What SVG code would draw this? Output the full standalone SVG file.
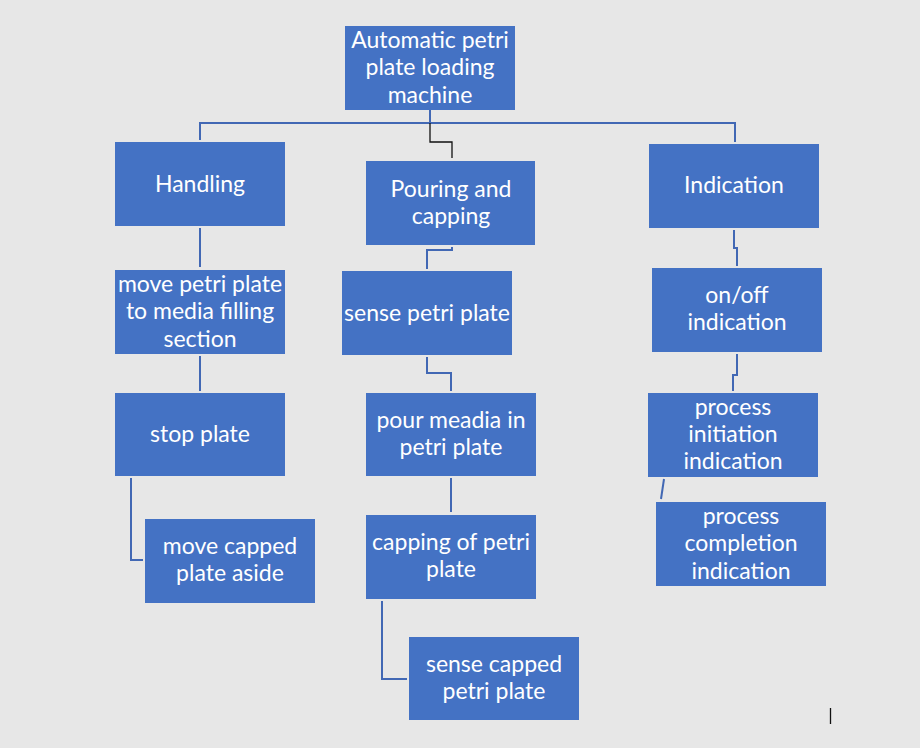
<svg xmlns="http://www.w3.org/2000/svg" width="920" height="748" viewBox="0 0 920 748">
<style>
.box{fill:#4472C4}
.t{fill:#ffffff;font-family:Lato,"Open Sans","Liberation Sans",sans-serif;font-size:23px;text-anchor:middle}
.c{fill:none;stroke:#4268B4;stroke-width:2}
.k{fill:none;stroke:#111111;stroke-width:1.3}
</style>
<rect width="920" height="748" fill="#E7E7E7"/>
<g id="connectors">
<path class="c" d="M430,110 V123 H200 V140"/>
<path class="c" d="M430,123 H735 V142"/>
<path class="k" d="M430,123 V142 H452 V158"/>
<path class="c" d="M200,228 V267"/>
<path class="c" d="M200,356 V391"/>
<path class="c" d="M131,478 V560 H143"/>
<path class="c" d="M452,247 V250 H427 V269"/>
<path class="c" d="M427,357 V373 H451 V391"/>
<path class="c" d="M451,478 V512"/>
<path class="c" d="M382,601 V679 H407"/>
<path class="c" d="M734,230 V248 H737 V266"/>
<path class="c" d="M737,354 V375 H733 V391"/>
<path class="c" d="M664,479 L661,499"/>
</g>
<g id="n-root"><rect class="box" x="345" y="26" width="170" height="84"/>
<text class="t" x="430" y="48">Automatic petri</text><text class="t" x="430" y="75">plate loading</text><text class="t" x="430" y="103">machine</text></g>
<g id="n-handling"><rect class="box" x="115" y="142" width="170" height="84"/>
<text class="t" x="200" y="192">Handling</text></g>
<g id="n-pouring"><rect class="box" x="366" y="161" width="169" height="84"/>
<text class="t" x="451" y="197">Pouring and</text><text class="t" x="451" y="224">capping</text></g>
<g id="n-indication"><rect class="box" x="649" y="144" width="170" height="84"/>
<text class="t" x="734" y="193">Indication</text></g>
<g id="n-move"><rect class="box" x="115" y="270" width="170" height="84"/>
<text class="t" x="200" y="292">move petri plate</text><text class="t" x="200" y="319">to media filling</text><text class="t" x="200" y="347">section</text></g>
<g id="n-stop"><rect class="box" x="115" y="393" width="170" height="83"/>
<text class="t" x="200" y="442">stop plate</text></g>
<g id="n-aside"><rect class="box" x="145" y="519" width="170" height="84"/>
<text class="t" x="230" y="554">move capped</text><text class="t" x="230" y="581">plate aside</text></g>
<g id="n-sense"><rect class="box" x="342" y="271" width="170" height="84"/>
<text class="t" x="427" y="321">sense petri plate</text></g>
<g id="n-pour"><rect class="box" x="366" y="393" width="170" height="83"/>
<text class="t" x="451" y="428">pour meadia in</text><text class="t" x="451" y="455">petri plate</text></g>
<g id="n-capping"><rect class="box" x="366" y="515" width="170" height="84"/>
<text class="t" x="451" y="550">capping of petri</text><text class="t" x="451" y="577">plate</text></g>
<g id="n-sensecapped"><rect class="box" x="409" y="637" width="170" height="83"/>
<text class="t" x="494" y="672">sense capped</text><text class="t" x="494" y="699">petri plate</text></g>
<g id="n-onoff"><rect class="box" x="652" y="268" width="170" height="84"/>
<text class="t" x="737" y="303">on/off</text><text class="t" x="737" y="330">indication</text></g>
<g id="n-init"><rect class="box" x="648" y="393" width="170" height="84"/>
<text class="t" x="733" y="415">process</text><text class="t" x="733" y="442">initiation</text><text class="t" x="733" y="469">indication</text></g>
<g id="n-complete"><rect class="box" x="656" y="502" width="170" height="84"/>
<text class="t" x="741" y="524">process</text><text class="t" x="741" y="551">completion</text><text class="t" x="741" y="579">indication</text></g>
<line x1="830.5" y1="708" x2="830.5" y2="724" stroke="#111111" stroke-width="1.3"/>
</svg>
